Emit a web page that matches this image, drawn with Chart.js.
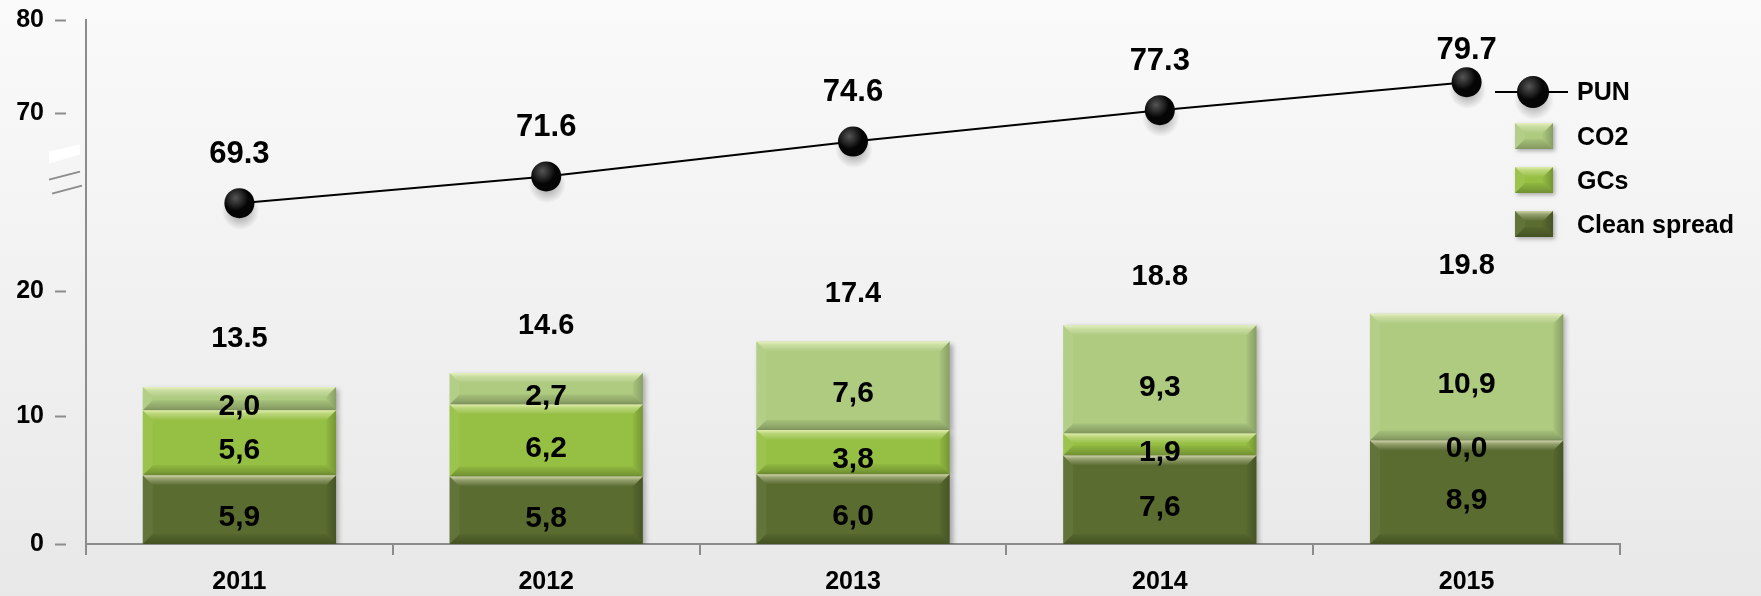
<!DOCTYPE html>
<html>
<head>
<meta charset="utf-8">
<title>PUN components</title>
<script src="https://cdn.jsdelivr.net/npm/chart.js@4.4.1/dist/chart.umd.min.js"></script>
<style>
  html, body { margin: 0; padding: 0; background: #efefef; }
</style>
</head>
<body>
<canvas id="punChart" width="1761" height="596"></canvas>
<script>
// PUN and its components, 2011-2015
const years = ['2011', '2012', '2013', '2014', '2015'];
const cleanSpread = [5.9, 5.8, 6.0, 7.6, 8.9];
const greenCerts = [5.6, 6.2, 3.8, 1.9, 0.0];
const co2 = [2.0, 2.7, 7.6, 9.3, 10.9];
const stackTotals = [13.5, 14.6, 17.4, 18.8, 19.8];
const pun = [69.3, 71.6, 74.6, 77.3, 79.7];
const yTickLabels = ['0', '10', '20', '70', '80'];

const FONT = '"Liberation Sans", Arial, sans-serif';
const AXIS_GREY = '#8c8c8c';

// the axis is broken: the PUN line sits on the same scale, shifted down by this much
const axisBreak = 40;
const yTop = 45.05;
// where the labelled stops of the broken axis sit on the lower scale
const brokenStops = [0, 11.0, 21.75, 37.06, 45.05];

const fmtComma = v => v.toFixed(1).replace('.', ',');

// beveled face: bright top edge, darker bottom and right edges
function bevel(ctx, l, t, r, b) {
  const h = b - t;
  if (h < 1) return;
  const d = Math.min(10, h / 2, (r - l) / 2);
  ctx.save();
  const g = ctx.createLinearGradient(0, t, 0, t + d);
  g.addColorStop(0, 'rgba(255,255,215,0.7)');
  g.addColorStop(0.35, 'rgba(255,255,220,0.35)');
  g.addColorStop(1, 'rgba(255,255,255,0.0)');
  ctx.fillStyle = g;
  ctx.beginPath();
  ctx.moveTo(l, t); ctx.lineTo(r, t); ctx.lineTo(r - d, t + d); ctx.lineTo(l + d, t + d);
  ctx.closePath(); ctx.fill();

  const gb = ctx.createLinearGradient(0, b - d, 0, b);
  gb.addColorStop(0, 'rgba(0,0,0,0.05)');
  gb.addColorStop(1, 'rgba(0,0,0,0.25)');
  ctx.fillStyle = gb;
  ctx.beginPath();
  ctx.moveTo(l, b); ctx.lineTo(r, b); ctx.lineTo(r - d, b - d); ctx.lineTo(l + d, b - d);
  ctx.closePath(); ctx.fill();

  const gr = ctx.createLinearGradient(r - d, 0, r, 0);
  gr.addColorStop(0, 'rgba(0,0,0,0.03)');
  gr.addColorStop(1, 'rgba(0,0,0,0.22)');
  ctx.fillStyle = gr;
  ctx.beginPath();
  ctx.moveTo(r, t); ctx.lineTo(r, b); ctx.lineTo(r - d, b - d); ctx.lineTo(r - d, t + d);
  ctx.closePath(); ctx.fill();

  ctx.fillStyle = 'rgba(255,255,255,0.06)';
  ctx.beginPath();
  ctx.moveTo(l, t); ctx.lineTo(l, b); ctx.lineTo(l + d, b - d); ctx.lineTo(l + d, t + d);
  ctx.closePath(); ctx.fill();
  ctx.restore();
}

function sphereShadow(ctx, x, y, r) {
  const g = ctx.createRadialGradient(x + 1, y + 8, 0, x + 1, y + 8, r * 1.25);
  g.addColorStop(0, 'rgba(0,0,0,0.4)');
  g.addColorStop(1, 'rgba(0,0,0,0)');
  ctx.fillStyle = g;
  ctx.beginPath();
  ctx.arc(x + 1, y + 8, r * 1.25, 0, Math.PI * 2);
  ctx.fill();
}

function sphereShine(ctx, x, y, r) {
  const g = ctx.createRadialGradient(x - r * 0.25, y - r * 0.35, 0, x - r * 0.25, y - r * 0.35, r * 0.85);
  g.addColorStop(0, 'rgba(255,255,255,0.32)');
  g.addColorStop(1, 'rgba(255,255,255,0)');
  ctx.fillStyle = g;
  ctx.beginPath();
  ctx.arc(x, y, r, 0, Math.PI * 2);
  ctx.fill();
}

const backdrop = {
  id: 'backdrop',
  beforeDraw(chart) {
    const { ctx, width, height } = chart;
    const g = ctx.createLinearGradient(0, 0, 0, height);
    g.addColorStop(0, '#fafafa');
    g.addColorStop(1, '#e8e8e8');
    ctx.save();
    ctx.fillStyle = g;
    ctx.fillRect(0, 0, width, height);
    ctx.restore();
  }
};

// bevels on the bars, shine and shadow on the PUN points
const markStyle = {
  id: 'markStyle',
  beforeDatasetDraw(chart, args) {
    const ds = chart.data.datasets[args.index];
    const ctx = chart.ctx;
    if (ds.type === 'line') {
      ctx.save();
      args.meta.data.forEach(p => sphereShadow(ctx, p.x, p.y, ds.pointRadius));
      ctx.restore();
    } else {
      ctx.save();
      ctx.shadowColor = 'rgba(0,0,0,0.3)';
      ctx.shadowBlur = 5;
      ctx.shadowOffsetX = 3;
      ctx.shadowOffsetY = 2;
    }
  },
  afterDatasetDraw(chart, args) {
    const ds = chart.data.datasets[args.index];
    const ctx = chart.ctx;
    if (ds.type === 'line') {
      ctx.save();
      args.meta.data.forEach(p => sphereShine(ctx, p.x, p.y, ds.pointRadius));
      ctx.restore();
    } else {
      ctx.restore();
      args.meta.data.forEach(el => {
        const { x, y, base, width } = el.getProps(['x', 'y', 'base', 'width'], true);
        bevel(ctx, x - width / 2, Math.min(y, base), x + width / 2, Math.max(y, base));
      });
    }
  }
};

// tick dashes and the break symbol on the value axis
const axisDecor = {
  id: 'axisDecor',
  afterDraw(chart) {
    const { ctx } = chart;
    const y = chart.scales.y;
    ctx.save();
    ctx.strokeStyle = AXIS_GREY;
    ctx.lineWidth = 2;
    y.ticks.forEach(t => {
      const py = Math.round(y.getPixelForValue(t.value)) + 0.5;
      ctx.beginPath();
      ctx.moveTo(55, py);
      ctx.lineTo(66, py);
      ctx.stroke();
    });
    const p20 = y.getPixelForValue(brokenStops[2]);
    const p70 = y.getPixelForValue(brokenStops[3]);
    const by = p70 + (p20 - p70) * 0.38;
    ctx.fillStyle = '#ffffff';
    ctx.beginPath();
    ctx.moveTo(49, by - 29); ctx.lineTo(80, by - 36); ctx.lineTo(80, by - 26); ctx.lineTo(49, by - 17);
    ctx.closePath(); ctx.fill();
    ctx.beginPath();
    ctx.moveTo(49, by - 1); ctx.lineTo(80, by - 9);
    ctx.moveTo(52, by + 13); ctx.lineTo(82, by + 5);
    ctx.stroke();
    ctx.restore();
  }
};

// value labels: segments, stack totals and PUN points
const valueLabels = {
  id: 'valueLabels',
  afterDraw(chart) {
    const { ctx } = chart;
    const y = chart.scales.y;
    ctx.save();
    ctx.fillStyle = '#000';
    ctx.textAlign = 'center';
    ctx.textBaseline = 'middle';
    chart.data.datasets.forEach((ds, i) => {
      const meta = chart.getDatasetMeta(i);
      if (ds.type === 'bar') {
        ctx.font = 'bold 30px ' + FONT;
        meta.data.forEach((el, j) => {
          ctx.fillText(fmtComma(ds.data[j]), el.x, (el.y + el.base) / 2 + 8);
        });
      } else {
        ctx.font = 'bold 31px ' + FONT;
        meta.data.forEach((p, j) => {
          ctx.fillText(ds.data[j].toFixed(1), p.x, Math.max(p.y - 49, 50));
        });
      }
    });
    ctx.font = 'bold 29px ' + FONT;
    const xs = chart.scales.x;
    stackTotals.forEach((t, j) => {
      ctx.fillText(t.toFixed(1), xs.getPixelForValue(j), y.getPixelForValue(t) - 48);
    });
    ctx.restore();
  }
};

const sideLegend = {
  id: 'sideLegend',
  afterDraw(chart) {
    const { ctx, chartArea } = chart;
    const dsets = chart.data.datasets;
    const line = dsets.find(d => d.type === 'line');
    const bars = dsets.filter(d => d.type === 'bar').reverse();
    const lx = chartArea.right - 125;
    const tx = chartArea.right - 43;
    let ry = chartArea.top + 72;
    ctx.save();
    ctx.font = 'bold 25px ' + FONT;
    ctx.textAlign = 'left';
    ctx.textBaseline = 'middle';

    // line entry
    ctx.strokeStyle = line.borderColor;
    ctx.lineWidth = 2;
    ctx.beginPath();
    ctx.moveTo(lx, ry); ctx.lineTo(lx + 73, ry);
    ctx.stroke();
    sphereShadow(ctx, lx + 38, ry, 16);
    ctx.fillStyle = line.pointBackgroundColor;
    ctx.beginPath(); ctx.arc(lx + 38, ry, 16, 0, Math.PI * 2); ctx.fill();
    sphereShine(ctx, lx + 38, ry, 16);
    ctx.fillStyle = '#000';
    ctx.fillText(line.label, tx, ry + 1);

    bars.forEach(ds => {
      ry += 44;
      const l = lx + 20, t = ry - 13, r = lx + 58, b = ry + 13;
      ctx.save();
      ctx.shadowColor = 'rgba(0,0,0,0.3)';
      ctx.shadowBlur = 4;
      ctx.shadowOffsetX = 2;
      ctx.shadowOffsetY = 2;
      ctx.fillStyle = ds.backgroundColor;
      ctx.fillRect(l, t, r - l, b - t);
      ctx.restore();
      bevel(ctx, l, t, r, b);
      ctx.fillStyle = '#000';
      ctx.fillText(ds.label, tx, ry + 2);
    });
    ctx.restore();
  }
};

Chart.defaults.font.family = FONT;

new Chart(document.getElementById('punChart'), {
  data: {
    labels: years,
    datasets: [
      {
        type: 'line',
        label: 'PUN',
        data: pun,
        yAxisID: 'yPun',
        borderColor: '#000000',
        borderWidth: 2,
        pointRadius: 15,
        pointBackgroundColor: '#050505',
        pointBorderWidth: 0,
        clip: false,
        order: 0
      },
      { type: 'bar', label: 'Clean spread', data: cleanSpread, backgroundColor: '#5a6c2f', order: 1 },
      { type: 'bar', label: 'GCs', data: greenCerts, backgroundColor: '#96c043', order: 1 },
      { type: 'bar', label: 'CO2', data: co2, backgroundColor: '#aecb80', order: 1 }
    ]
  },
  options: {
    responsive: false,
    animation: false,
    barPercentage: 0.63,
    categoryPercentage: 1.0,
    layout: { autoPadding: false, padding: { top: 20, right: 141, left: 0, bottom: 0 } },
    plugins: {
      legend: { display: false },
      tooltip: { enabled: false }
    },
    scales: {
      x: {
        stacked: true,
        grid: {
          offset: true,
          drawOnChartArea: false,
          drawTicks: true,
          tickLength: 11,
          color: AXIS_GREY,
          lineWidth: 2
        },
        border: { display: true, color: AXIS_GREY, width: 2 },
        ticks: {
          color: '#000',
          font: { size: 25, weight: 'bold' },
          padding: 12,
          maxRotation: 0
        },
        afterFit: s => { s.height = 52; }
      },
      y: {
        stacked: true,
        position: 'left',
        min: 0,
        max: yTop,
        grid: { display: false, drawTicks: false },
        border: { display: true, color: AXIS_GREY, width: 2 },
        ticks: {
          color: '#000',
          font: { size: 25, weight: 'bold' },
          padding: 42,
          autoSkip: false,
          callback: (v, i) => yTickLabels[i]
        },
        afterBuildTicks: s => { s.ticks = brokenStops.map(v => ({ value: v })); },
        afterFit: s => {
          s.width = 86;
          s.paddingTop = 0;
          s.paddingBottom = 0;
        }
      },
      yPun: {
        display: false,
        position: 'left',
        min: axisBreak,
        max: yTop + axisBreak
      }
    }
  },
  plugins: [backdrop, markStyle, axisDecor, valueLabels, sideLegend]
});
</script>
</body>
</html>
